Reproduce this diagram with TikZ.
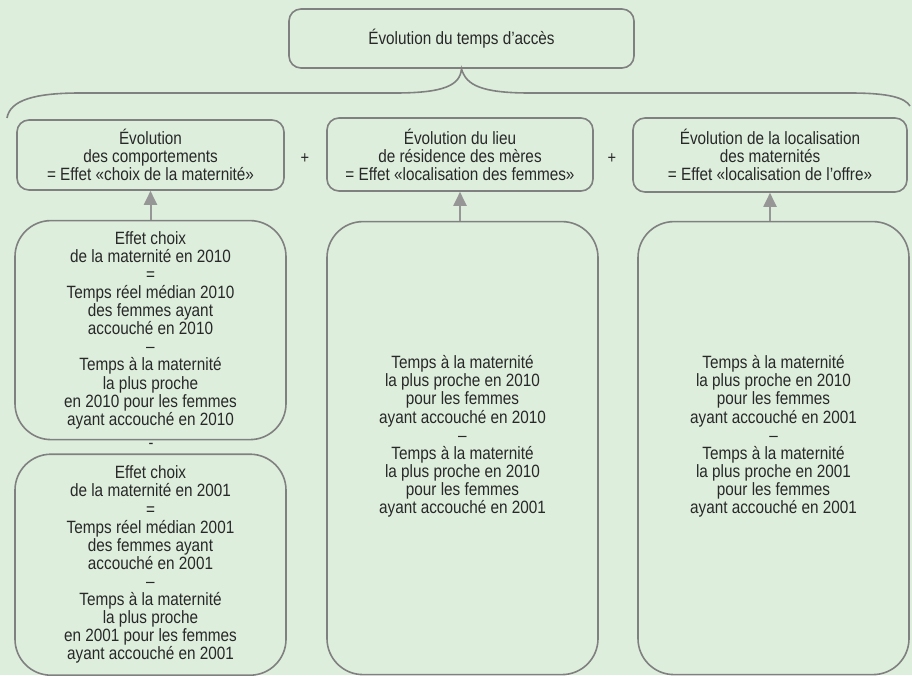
\documentclass[tikz,border=0pt]{standalone}
\usepackage{fontspec}
\setmainfont{Liberation Sans}[FakeStretch=0.86]
\usepackage{tikz}
\usetikzlibrary{positioning}
\usetikzlibrary{arrows.meta}
\usepackage{xcolor}
\definecolor{fondvert}{RGB}{221,238,220}
\definecolor{trait}{RGB}{128,128,128}
\definecolor{fleche}{RGB}{150,150,150}
\definecolor{texte}{RGB}{40,40,40}

\begin{document}
\begin{tikzpicture}[x=1pt,y=-1pt,
        boite/.style={rectangle, rounded corners=12pt, draw=trait, line width=1.6pt, align=center, text=texte, font=\fontsize{17.8}{18.1}\selectfont, inner sep=2pt},
        grande/.style={boite, rounded corners=36pt, minimum width=271pt},
        signe/.style={text=texte, font=\fontsize{17}{18}\selectfont, inner sep=0pt},
        arr/.style={-{Triangle[length=14pt,width=13pt]}, draw=fleche, line width=2pt},
        node distance=29pt
    ]
        \fill[fondvert] (0,0) rectangle (912,675);
        \useasboundingbox (0,0) rectangle (912,675);

        \node[boite, minimum width=345pt, minimum height=59pt] (acces) at (461.5,38.5) {Évolution du temps d’accès};

        \node[boite, minimum width=267pt, minimum height=70pt] (compo) at (150.5,155) {Évolution\\des comportements\\= Effet «choix de la maternité»};
        \node[boite, minimum width=266pt, minimum height=73pt] (resid) at (460,154.5) {Évolution du lieu\\de résidence des mères\\= Effet «localisation des femmes»};
        \node[boite, minimum width=274pt, minimum height=74pt] (offre) at (770,155) {Évolution de la localisation\\des maternités\\= Effet «localisation de l’offre»};
        \node[signe] (plusA) at (305,159) {+};
        \node[signe] (plusB) at (612,159) {+};

        \node[grande, minimum height=219pt] (choixA) [below=of compo] {Effet choix\\de la maternité en 2010\\=\\Temps réel médian 2010\\des femmes ayant\\accouché en 2010\\–\\Temps à la maternité\\la plus proche\\en 2010 pour les femmes\\ayant accouché en 2010};
        \node[signe] (moins) at (151,446) {-};
        \node[grande, minimum height=221pt] (choixB) [below=13pt of choixA] {Effet choix\\de la maternité en 2001\\=\\Temps réel médian 2001\\des femmes ayant\\accouché en 2001\\–\\Temps à la maternité\\la plus proche\\en 2001 pour les femmes\\ayant accouché en 2001};
        \node[grande, minimum height=453pt, xshift=2.5pt] (femmes) [below=of resid] {Temps à la maternité\\la plus proche en 2010\\pour les femmes\\ayant accouché en 2010\\–\\Temps à la maternité\\la plus proche en 2010\\pour les femmes\\ayant accouché en 2001\\[9pt]\mbox{}};
        \node[grande, minimum height=453pt, xshift=3.5pt] (locoffre) [below=28pt of offre] {Temps à la maternité\\la plus proche en 2010\\pour les femmes\\ayant accouché en 2001\\–\\Temps à la maternité\\la plus proche en 2001\\pour les femmes\\ayant accouché en 2001\\[9pt]\mbox{}};

        \draw[arr] (choixA.north) -- (compo.south);
        \draw[arr] (femmes.north -| resid.south) -- (resid.south);
        \draw[arr] (locoffre.north -| offre.south) -- (offre.south);

        \coordinate (bgauche) at (7,118);
        \coordinate (bdroite) at (910,106);
        \draw[trait, line width=1.6pt] (bgauche) .. controls (10,100) and (35,93) .. (80,93) -- (395,93)
            .. controls (445,93) and (460,85) .. (acces.south)
            .. controls (466,85) and (481,93) .. (530,93) -- (850,93)
            .. controls (890,93) and (905,98) .. (bdroite);
    \end{tikzpicture}
\end{document}
